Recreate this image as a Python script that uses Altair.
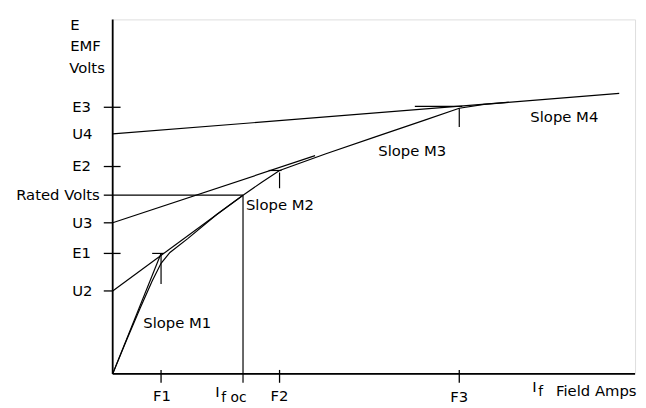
import altair as alt
import pandas as pd

# Magnetisation (open-circuit) curve
# x = field current (arbitrary units from origin), y = EMF (arbitrary units)
curve_x = [0, 14, 28, 40, 49, 58, 76, 106, 132, 151, 169, 216, 266, 316, 351, 376, 401]
curve_y = [0, 34, 67, 94, 112, 123, 137, 162, 181, 194, 206, 223, 240, 257, 269, 273, 275]

# Straight construction lines: slopes, tangent extensions, rated-volts guide, small markers
seg_name = ["M1", "U2 line", "U3 line", "U4 line", "rated", "ifoc",
            "E1 bar", "E2 bar", "E3 bar", "F1 mark", "F2 mark", "F3 mark"]
seg_x  = [0,   0,   0,   0,   0,   132, 40,  158, 306, 49,  169, 351]
seg_y  = [0,   84,  153, 243, 181, 181, 122, 206, 271, 122, 204, 269]
seg_x2 = [49,  132, 205, 513, 132, 132, 52,  171, 354, 49,  169, 351]
seg_y2 = [122, 181, 221, 284, 181, -9,  122, 206, 271, 91,  188, 250]

# Axes
axis_x  = [0, 0]
axis_y  = [0, 0]
axis_x2 = [0, 529]
axis_y2 = [359, 0]

# Tick marks on the EMF axis
ytick_vals = [270, 210, 122, 181, 153, 84]
ytick_x1   = [-9, -9, -9, -9, -9, -9]
ytick_x2   = [8, 8, 8, 0, 0, 0]

# Tick marks on the field-current axis
xtick_vals = [49, 169, 351]

# Labels
left_labels = ["E", "EMF", "Volts", "E3", "U4", "E2", "U3", "E1", "U2",
               "Slope M1", "Slope M2", "Slope M3", "Slope M4", "Field Amps"]
left_x = [-43, -43, -44, -41, -41, -41, -41, -41, -41, 31, 135, 269, 423, 449]
left_y = [353, 332, 310, 270, 243, 210, 153, 122, 84, 51, 171, 226, 260, -17]

right_labels = ["Rated Volts"]
right_x = [-13]
right_y = [181]

center_labels = ["F1", "F2", "F3", "I", "I"]
center_x = [50, 169, 351, 106, 427]
center_y = [-22, -22, -23, -18, -13]

sub_labels = ["f oc", "f"]
sub_x = [110, 431]
sub_y = [-24, -18]

xs = alt.Scale(domain=[0, 529], nice=False, zero=False)
ys = alt.Scale(domain=[0, 359], nice=False, zero=False)
FONT = "DejaVu Sans"

curve_df = pd.DataFrame({"x": curve_x, "y": curve_y, "i": list(range(len(curve_x)))})
seg_df = pd.DataFrame({"name": seg_name, "x": seg_x, "y": seg_y, "x2": seg_x2, "y2": seg_y2})
axis_df = pd.DataFrame({"x": axis_x, "y": axis_y, "x2": axis_x2, "y2": axis_y2})
ytick_df = pd.DataFrame({"y": ytick_vals, "x": ytick_x1, "x2": ytick_x2})
xtick_df = pd.DataFrame({"x": xtick_vals, "y": [4] * 3, "y2": [-9] * 3})

curve = alt.Chart(curve_df).mark_line(color="black", strokeWidth=1.2).encode(
    x=alt.X("x:Q", scale=xs, axis=None),
    y=alt.Y("y:Q", scale=ys, axis=None),
    order="i:Q",
)

def rules(df, width):
    return alt.Chart(df).mark_rule(color="black", strokeWidth=width).encode(
        x=alt.X("x:Q", scale=xs, axis=None),
        y=alt.Y("y:Q", scale=ys, axis=None),
        x2="x2:Q",
        y2="y2:Q",
    )

def texts(labels, xv, yv, align, size):
    df = pd.DataFrame({"t": labels, "x": xv, "y": yv})
    return alt.Chart(df).mark_text(
        align=align, baseline="middle", font=FONT, fontSize=size, color="black"
    ).encode(
        x=alt.X("x:Q", scale=xs, axis=None),
        y=alt.Y("y:Q", scale=ys, axis=None),
        text="t:N",
    )

chart = alt.layer(
    rules(axis_df, 1.8),
    rules(seg_df, 1.2),
    rules(ytick_df, 1.3),
    rules(xtick_df, 1.3),
    curve,
    texts(left_labels, left_x, left_y, "left", 15),
    texts(right_labels, right_x, right_y, "right", 15),
    texts(center_labels, center_x, center_y, "center", 15),
    texts(sub_labels, sub_x, sub_y, "left", 14),
).properties(
    width=529,
    height=359,
    padding={"left": 106, "top": 9, "right": 3, "bottom": 32},
    autosize=alt.AutoSizeParams(type="none"),
).configure_view(stroke=None).configure(background="white")

chart.save("out.html", embed_options={"renderer": "svg", "actions": False})
